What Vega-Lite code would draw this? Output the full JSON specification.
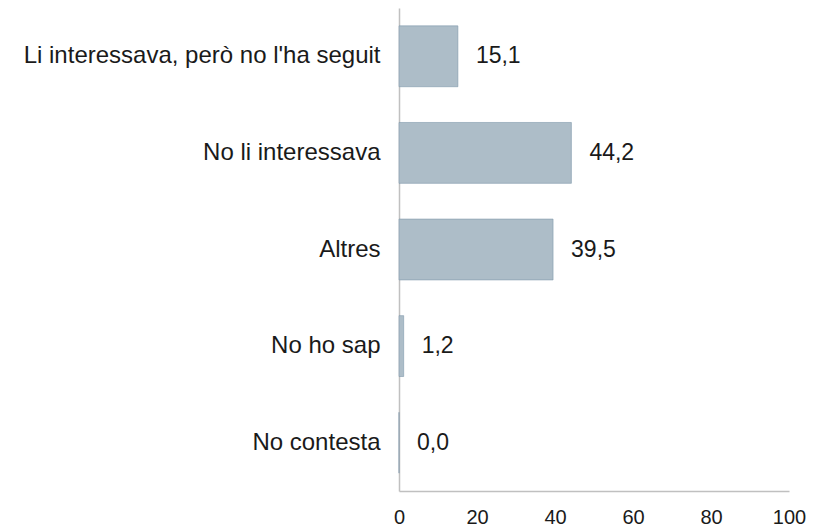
{
  "$schema": "https://vega.github.io/schema/vega-lite/v6.json",
  "width": 390,
  "height": 483,
  "autosize": {"type": "none"},
  "padding": {"left": 399, "top": 8, "right": 39, "bottom": 37},
  "background": "white",
  "config": {
    "locale": {"number": {"decimal": ",", "thousands": ".", "grouping": [3], "currency": ["", " €"]}},
    "view": {"stroke": null},
    "font": "Liberation Sans"
  },
  "data": {
    "values": [
      {"cat": "Li interessava, però no l'ha seguit", "val": 15.1},
      {"cat": "No li interessava", "val": 44.2},
      {"cat": "Altres", "val": 39.5},
      {"cat": "No ho sap", "val": 1.2},
      {"cat": "No contesta", "val": 0.0}
    ]
  },
  "encoding": {
    "y": {
      "field": "cat", "type": "nominal", "sort": null,
      "scale": {"paddingInner": 0.37, "paddingOuter": 0.185},
      "axis": {"title": null, "ticks": false, "labelPadding": 19, "labelFontSize": 24, "labelColor": "#1a1a1a", "domainColor": "#c0c0c0", "domainWidth": 1.5, "labelLimit": 400, "grid": false}
    },
    "x": {
      "field": "val", "type": "quantitative",
      "scale": {"domain": [0, 100], "nice": false},
      "axis": {"title": null, "ticks": false, "values": [0, 20, 40, 60, 80, 100], "format": "d", "labelPadding": 16, "labelFontSize": 20, "labelColor": "#1a1a1a", "domainColor": "#c0c0c0", "domainWidth": 1.5, "grid": false, "labelFlush": false}
    }
  },
  "layer": [
    {"mark": {"type": "bar", "color": "#adbdc8", "stroke": "#7f98ab", "strokeWidth": 0.6}},
    {"mark": {"type": "text", "align": "left", "baseline": "middle", "dx": 18, "fontSize": 23, "color": "#1a1a1a"},
     "encoding": {"text": {"field": "val", "type": "quantitative", "format": ".1f"}}}
  ]
}
